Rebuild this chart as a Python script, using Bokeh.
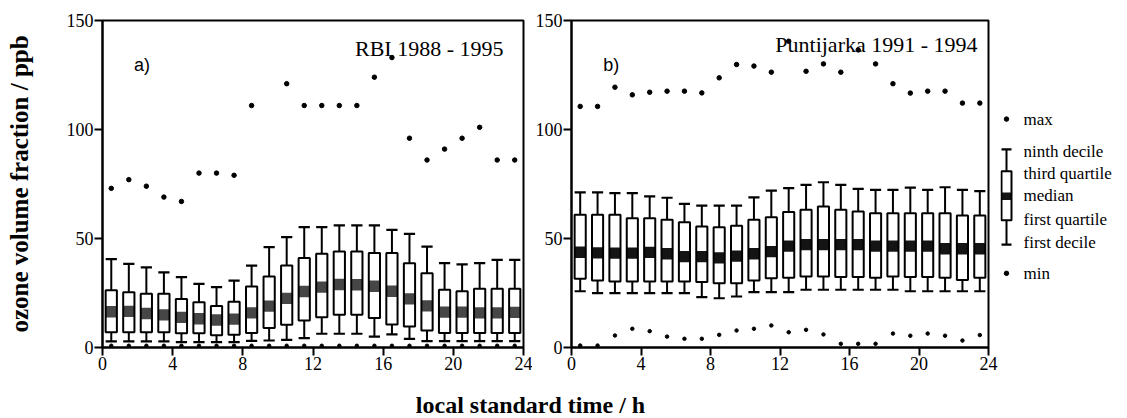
import math
from bokeh.plotting import figure
from bokeh.models import Range1d, FixedTicker, Label, ColumnDataSource
from bokeh.layouts import row, column
from bokeh.embed import file_html
from bokeh.resources import INLINE

nan = float("nan")

# ---------------- data ----------------
hours = list(range(24))
x_ticks = [0, 4, 8, 12, 16, 20, 24]
y_ticks = [0, 50, 100, 150]

# a) RBI 1988 - 1995
rbi_max = [73, 77, 74, 69, 67, 80, 80, 79, 111, nan, 121, 111, 111, 111, 111, 124, 133, 96, 86, 91, 96, 101, 86, 86]
rbi_p90 = [40.5, 38.4, 36.8, 34.5, 32.3, 29.2, 27.7, 30.7, 37.6, 46.0, 50.6, 55.2, 55.2, 56.0, 56.0, 56.0, 54.0, 52.1, 46.3, 38.7, 38.1, 38.7, 40.2, 40.2]
rbi_p75 = [26.3, 25.4, 24.6, 24.6, 22.3, 20.8, 19.0, 21.0, 28.0, 32.6, 37.6, 41.0, 43.0, 44.0, 44.0, 43.4, 43.4, 38.7, 34.1, 26.5, 25.8, 26.9, 26.9, 26.9]
rbi_med = [16.4, 16.6, 15.6, 15.0, 13.8, 13.2, 12.6, 13.0, 15.9, 19.0, 22.5, 25.7, 27.7, 28.9, 28.8, 28.1, 25.8, 22.3, 19.1, 16.2, 16.2, 15.9, 15.9, 16.1]
rbi_p25 = [7.0, 7.0, 7.0, 7.0, 6.5, 6.5, 5.6, 5.8, 6.6, 8.9, 10.4, 12.4, 13.9, 15.0, 15.0, 13.5, 10.6, 9.6, 7.8, 6.6, 6.6, 6.6, 6.6, 6.6]
rbi_p10 = [2.8, 2.8, 2.8, 2.8, 2.5, 2.5, 2.5, 2.5, 3.0, 3.2, 3.5, 4.3, 6.3, 6.3, 6.3, 5.0, 6.0, 4.0, 2.9, 2.9, 2.9, 2.9, 2.9, 2.9]
rbi_min = [0.8] * 24

# b) Puntijarka 1991 - 1994
pun_max = [110.6, 110.6, 119.4, 115.9, 117.1, 117.6, 117.6, 116.8, 123.7, 129.8, 129.1, 126.3, 140.5, 126.7, 130.1, 126.3, 136.5, 130.1, 121.0, 116.7, 117.6, 117.6, 112.1, 112.1]
pun_p90 = [71.2, 71.2, 70.8, 70.8, 69.3, 68.7, 65.9, 65.1, 65.1, 65.1, 68.9, 72.0, 73.1, 74.6, 75.8, 74.6, 72.8, 72.3, 72.3, 73.3, 72.3, 73.5, 72.3, 71.7]
pun_p75 = [60.9, 60.9, 60.9, 59.3, 59.3, 58.6, 57.5, 55.5, 55.2, 55.9, 58.6, 59.8, 62.1, 63.2, 64.7, 63.2, 62.4, 61.6, 61.6, 61.6, 61.6, 61.6, 60.6, 60.6]
pun_med = [43.7, 43.4, 43.3, 43.3, 43.6, 43.0, 41.7, 41.7, 41.1, 41.9, 43.0, 44.0, 46.5, 47.2, 47.2, 47.2, 47.2, 46.5, 46.5, 46.5, 46.5, 45.3, 45.3, 45.3]
pun_p25 = [31.5, 30.7, 30.3, 30.3, 30.3, 30.3, 30.3, 30.0, 29.5, 29.5, 30.7, 31.8, 32.0, 32.6, 32.6, 32.3, 32.3, 32.0, 32.6, 32.3, 32.3, 32.0, 31.0, 32.0]
pun_p10 = [25.8, 24.9, 24.9, 24.9, 24.9, 24.9, 24.9, 23.1, 22.6, 23.4, 25.4, 25.4, 25.4, 26.5, 26.5, 26.5, 26.5, 26.5, 26.5, 25.8, 25.8, 25.8, 25.8, 25.8]
pun_min = [0.9, 0.9, 5.5, 8.6, 7.5, 5.0, 4.0, 4.0, 5.8, 7.8, 8.6, 10.1, 7.0, 8.1, 6.0, 1.7, 1.7, 1.7, 6.4, 5.4, 6.4, 5.4, 3.2, 5.7]

legend_labels = ["ninth decile", "third quartile", "median", "first quartile", "first decile"]

SERIF = "Liberation Serif"
SANS = "Liberation Sans"
BOX_W = 0.64
BAND_H = 5.2


def make_panel(width, bl, br, with_ylabel):
    p = figure(width=width, height=388, x_range=Range1d(0, 24), y_range=Range1d(0, 150),
               output_backend="svg", toolbar_location=None,
               min_border_left=bl, min_border_right=br, min_border_top=20, min_border_bottom=41)
    p.xgrid.visible = False
    p.ygrid.visible = False
    p.outline_line_color = "black"
    p.outline_line_width = 2
    p.background_fill_color = "white"
    p.border_fill_color = "white"
    for ax in (p.xaxis[0], p.yaxis[0]):
        ax.axis_line_width = 2
        ax.axis_line_color = "black"
        ax.major_tick_line_width = 2
        ax.major_tick_in = 0
        ax.major_tick_out = 8
        ax.minor_tick_line_color = None
        ax.major_label_text_font = SERIF
        ax.major_label_text_font_size = "18px"
        ax.major_label_text_color = "black"
        ax.major_label_standoff = 1
    p.xaxis[0].ticker = FixedTicker(ticks=x_ticks)
    p.yaxis[0].ticker = FixedTicker(ticks=y_ticks)
    if with_ylabel:
        ax = p.yaxis[0]
        ax.axis_label = "ozone volume fraction / ppb"
        ax.axis_label_text_font = SERIF
        ax.axis_label_text_font_style = "bold"
        ax.axis_label_text_font_size = "25px"
        ax.axis_label_text_color = "black"
        ax.axis_label_standoff = 31
    return p


def draw_boxes(p, mx, p90, p75, med, p25, p10, mn, band_color):
    xs = [h + 0.5 for h in hours]
    src = ColumnDataSource(dict(
        x=xs,
        x0=[x - BOX_W / 2 for x in xs],
        x1=[x + BOX_W / 2 for x in xs],
        mx=mx, p90=p90, p75=p75, med=med, p25=p25, p10=p10, mn=mn,
        bt=[m + BAND_H / 2 for m in med],
        bb=[m - BAND_H / 2 for m in med],
    ))
    p.segment(x0="x", y0="p75", x1="x", y1="p90", source=src, line_color="black", line_width=2)
    p.segment(x0="x", y0="p25", x1="x", y1="p10", source=src, line_color="black", line_width=2)
    p.segment(x0="x0", y0="p90", x1="x1", y1="p90", source=src, line_color="black", line_width=2.2)
    p.segment(x0="x0", y0="p10", x1="x1", y1="p10", source=src, line_color="black", line_width=2.2)
    p.quad(left="x0", right="x1", top="p75", bottom="p25", source=src,
           fill_color="white", line_color=None)
    p.quad(left="x0", right="x1", top="bt", bottom="bb", source=src,
           fill_color=band_color, line_color=None)
    p.quad(left="x0", right="x1", top="p75", bottom="p25", source=src,
           fill_color=None, line_color="black", line_width=2)
    p.scatter(x="x", y="mx", source=src, size=4.5, color="black")
    p.scatter(x="x", y="mn", source=src, size=3.5, color="black")


pa = make_panel(532, 102, 9, True)
draw_boxes(pa, rbi_max, rbi_p90, rbi_p75, rbi_med, rbi_p25, rbi_p10, rbi_min, "#464646")
pa.add_layout(Label(x=22.86, y=137, text="RBI 1988 - 1995", text_align="right",
                    text_baseline="alphabetic", text_font=SERIF, text_font_size="22px",
                    text_color="black"))
pa.add_layout(Label(x=1.8, y=129.8, text="a)", text_align="left", text_baseline="alphabetic",
                    text_font=SANS, text_font_size="18px", text_color="black"))

pb = make_panel(468, 36, 12, False)
draw_boxes(pb, pun_max, pun_p90, pun_p75, pun_med, pun_p25, pun_p10, pun_min, "#141414")
pb.add_layout(Label(x=23.37, y=139, text="Puntijarka 1991 - 1994", text_align="right",
                    text_baseline="alphabetic", text_font=SERIF, text_font_size="22px",
                    text_color="black"))
pb.add_layout(Label(x=1.83, y=129.4, text="b)", text_align="left", text_baseline="alphabetic",
                    text_font=SANS, text_font_size="18px", text_color="black"))

# ---------------- legend (pixel coordinates) ----------------
pl = figure(width=127, height=388, x_range=Range1d(0, 127), y_range=Range1d(388, 0),
            output_backend="svg", toolbar_location=None, min_border=0,
            x_axis_type=None, y_axis_type=None)
pl.outline_line_color = None
pl.xgrid.visible = False
pl.ygrid.visible = False
cx, half = 6, 5
y_cap_top, y_box_top, y_box_bot, y_cap_bot = 153, 179, 237, 266
pl.segment(x0=[cx, cx], y0=[y_cap_top, y_box_bot], x1=[cx, cx], y1=[y_box_top, y_cap_bot],
           line_color="black", line_width=2)
pl.segment(x0=[cx - half, cx - half], y0=[y_cap_top, y_cap_bot], x1=[cx + half, cx + half],
           y1=[y_cap_top, y_cap_bot], line_color="black", line_width=2.2)
pl.quad(left=[cx - half], right=[cx + half], top=[204], bottom=[213], fill_color="#141414",
        line_color=None)
pl.quad(left=[cx - half], right=[cx + half], top=[y_box_top], bottom=[y_box_bot],
        fill_color=None, line_color="black", line_width=2)
pl.scatter(x=[cx, cx], y=[117, 300], size=4.5, color="black")
label_y = [155, 181, 208, 236, 264]
pl.text(x=[23] * 5, y=label_y, text=legend_labels, text_font=SERIF, text_font_size="17px",
        text_baseline="middle", text_align="left", text_color="black")
pl.text(x=[23, 23], y=[117, 300], text=["max", "min"], text_font=SERIF, text_font_size="17px",
        text_baseline="middle", text_align="left", text_color="black")

# ---------------- shared x-axis title ----------------
px = figure(width=1127, height=30, x_range=Range1d(0, 1127), y_range=Range1d(30, 0),
            output_backend="svg", toolbar_location=None, min_border=0,
            x_axis_type=None, y_axis_type=None)
px.outline_line_color = None
px.xgrid.visible = False
px.ygrid.visible = False
px.add_layout(Label(x=530, y=16, text="local standard time / h", text_align="center",
                    text_baseline="middle", text_font=SERIF, text_font_style="bold",
                    text_font_size="24px", text_color="black"))

layout = column(row(pa, pb, pl), px)
open("out.html", "w").write(file_html(layout, INLINE))
